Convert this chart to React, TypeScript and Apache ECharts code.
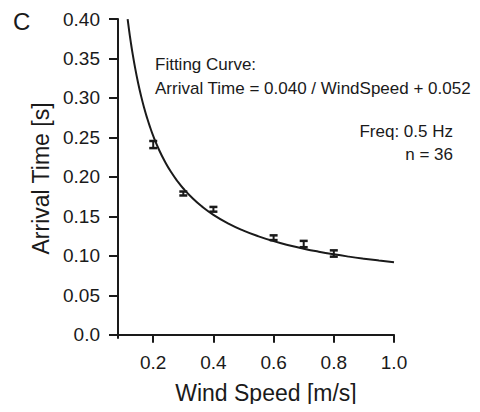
import React, { useEffect, useRef } from "react";
import * as echarts from "echarts";

const WIND_SPEED = [0.2, 0.3, 0.4, 0.6, 0.7, 0.8];
const ARRIVAL_TIME = [0.241, 0.179, 0.159, 0.123, 0.115, 0.103];
const ERROR = [0.0045, 0.0025, 0.003, 0.003, 0.004, 0.004];

const FIT_A = 0.04;
const FIT_B = 0.052;
const CURVE_X = [
  0.115, 0.12, 0.125, 0.13, 0.14, 0.15, 0.16, 0.17, 0.18, 0.19, 0.2, 0.22, 0.24,
  0.26, 0.28, 0.3, 0.33, 0.36, 0.4, 0.45, 0.5, 0.55, 0.6, 0.65, 0.7, 0.75, 0.8,
  0.85, 0.9, 0.95, 1.0,
];

const X_TICKS = [0.2, 0.4, 0.6, 0.8, 1.0];
const Y_TICKS = [0, 0.05, 0.1, 0.15, 0.2, 0.25, 0.3, 0.35, 0.4];

const FONT = "'Liberation Sans', Arial, Helvetica, sans-serif";
const INK = "#1a1a1a";

export default function App() {
  const ref = useRef<HTMLDivElement>(null);
  useEffect(() => {
    if (!ref.current) return;
    const chart = echarts.init(ref.current, undefined, { renderer: "svg" });
    const curve = CURVE_X.map((x) => [x, FIT_A / x + FIT_B]);
    const errData = WIND_SPEED.map((x, i) => [x, ARRIVAL_TIME[i], ERROR[i]]);
    chart.setOption({
      animation: false,
      backgroundColor: "#fff",
      grid: { left: 118, right: 86, top: 19, bottom: 74 },
      xAxis: {
        type: "value",
        min: 0.083,
        max: 1.0,
        name: "Wind Speed [m/s]",
        nameLocation: "middle",
        nameGap: 43,
        nameTextStyle: { fontFamily: FONT, fontSize: 23, color: INK, padding: [0, 0, 0, 20] },
        axisLine: { lineStyle: { color: INK, width: 2 } },
        axisTick: { customValues: X_TICKS, length: 8, lineStyle: { color: INK, width: 2 } },
        axisLabel: {
          customValues: X_TICKS,
          margin: 15,
          fontFamily: FONT,
          fontSize: 19,
          color: INK,
          formatter: (v: number) => v.toFixed(1),
        },
        splitLine: { show: false },
      },
      yAxis: {
        type: "value",
        min: -0.004,
        max: 0.4,
        name: "Arrival Time [s]",
        nameLocation: "middle",
        nameGap: 66,
        nameTextStyle: { fontFamily: FONT, fontSize: 23, color: INK },
        axisLine: { show: true, lineStyle: { color: INK, width: 2 } },
        axisTick: { show: true, customValues: Y_TICKS, length: 9, lineStyle: { color: INK, width: 2 } },
        axisLabel: {
          customValues: Y_TICKS,
          margin: 18,
          fontFamily: FONT,
          fontSize: 19,
          color: INK,
          formatter: (v: number) => (v === 0 ? "0.0" : v.toFixed(2)),
        },
        splitLine: { show: false },
      },
      series: [
        {
          type: "line",
          data: curve,
          showSymbol: false,
          smooth: true,
          lineStyle: { color: INK, width: 2 },
          z: 2,
        },
        {
          type: "custom",
          data: errData,
          z: 3,
          renderItem: (params: any, api: any) => {
            const x = api.value(0);
            const y = api.value(1);
            const e = api.value(2);
            const top = api.coord([x, y + e]);
            const bot = api.coord([x, y - e]);
            const hw = 4;
            const style = { stroke: INK, lineWidth: 2 };
            const capStyle = { stroke: INK, lineWidth: 2.5 };
            return {
              type: "group",
              children: [
                { type: "line", shape: { x1: top[0], y1: top[1], x2: bot[0], y2: bot[1] }, style },
                { type: "line", shape: { x1: top[0] - hw, y1: top[1], x2: top[0] + hw, y2: top[1] }, style: capStyle },
                { type: "line", shape: { x1: bot[0] - hw, y1: bot[1], x2: bot[0] + hw, y2: bot[1] }, style: capStyle },
              ],
            };
          },
        },
      ],
      graphic: [
        {
          type: "text",
          left: 13,
          top: 9,
          style: { text: "C", fontFamily: FONT, fontSize: 24, fill: INK },
        },
        {
          type: "text",
          left: 155,
          top: 56,
          style: { text: "Fitting Curve:", fontFamily: FONT, fontSize: 17, fill: INK },
        },
        {
          type: "text",
          left: 155,
          top: 80,
          style: {
            text: "Arrival Time = 0.040 / WindSpeed + 0.052",
            fontFamily: FONT,
            fontSize: 17,
            fill: INK,
          },
        },
        {
          type: "text",
          right: 27,
          top: 123,
          style: { text: "Freq: 0.5 Hz", fontFamily: FONT, fontSize: 17, fill: INK, align: "right" },
        },
        {
          type: "text",
          right: 27,
          top: 146,
          style: { text: "n = 36", fontFamily: FONT, fontSize: 17, fill: INK, align: "right" },
        },
      ],
    });
    return () => chart.dispose();
  }, []);
  return <div ref={ref} style={{ width: 480, height: 412, margin: -8 }} />;
}
